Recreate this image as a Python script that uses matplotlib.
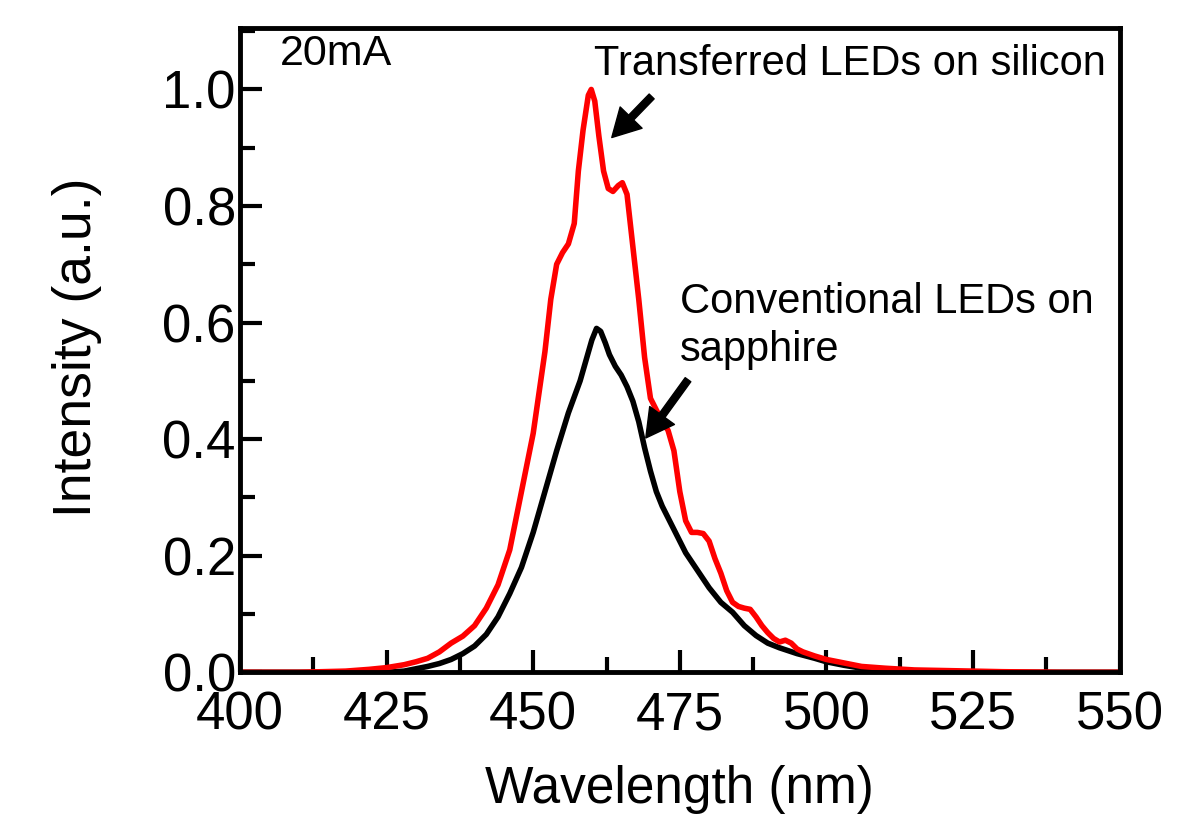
import matplotlib
matplotlib.use("Agg")
import matplotlib.pyplot as plt
from matplotlib.ticker import MultipleLocator

plt.rcParams['font.family'] = ['Liberation Sans', 'DejaVu Sans']

# Transferred LEDs on silicon (red)
wl_si = [400, 410, 418, 422, 425, 428, 430, 432, 434, 436, 438, 440, 442, 444,
         446, 448, 449, 450, 451, 452, 453, 454, 455, 456, 457, 457.7, 458.5,
         459.4, 459.9, 460.5, 461.2, 462, 462.8, 463.6, 464.5, 465.2, 466, 467,
         468, 469, 470, 471, 472, 473, 474, 475, 476, 477, 478, 479, 480, 481,
         482, 483, 484, 485, 486, 487, 488, 489, 490, 491, 492, 493, 494, 495,
         496, 498, 500, 503, 506, 510, 515, 520, 530, 540, 550]
int_si = [0.0, 0.0, 0.002, 0.005, 0.008, 0.013, 0.018, 0.024, 0.035, 0.05,
          0.062, 0.08, 0.11, 0.15, 0.21, 0.31, 0.36, 0.41, 0.48, 0.55, 0.64,
          0.70, 0.72, 0.735, 0.77, 0.86, 0.93, 0.99, 1.0, 0.98, 0.92, 0.86,
          0.83, 0.825, 0.835, 0.84, 0.82, 0.73, 0.64, 0.54, 0.47, 0.45, 0.43,
          0.415, 0.38, 0.31, 0.26, 0.24, 0.24, 0.238, 0.225, 0.195, 0.17, 0.14,
          0.12, 0.113, 0.11, 0.108, 0.095, 0.08, 0.068, 0.058, 0.052, 0.055,
          0.05, 0.04, 0.035, 0.028, 0.022, 0.016, 0.01, 0.007, 0.004, 0.003,
          0.001, 0.0, 0.0]

# Conventional LEDs on sapphire (black)
wl_sa = [400, 420, 425, 428, 430, 432, 434, 436, 438, 440, 442, 444, 446, 448,
         450, 452, 454, 456, 458, 459, 460, 460.8, 461.5, 462.3, 463, 464, 465,
         466, 467, 468, 469, 470, 471, 472, 473, 474, 475, 476, 478, 480, 482,
         484, 486, 488, 490, 492, 495, 498, 500, 503, 506, 510, 515, 520, 550]
int_sa = [0.0, 0.0, 0.0, 0.002, 0.006, 0.01, 0.015, 0.022, 0.032, 0.045, 0.065,
          0.095, 0.135, 0.18, 0.24, 0.31, 0.38, 0.445, 0.50, 0.535, 0.57, 0.59,
          0.585, 0.565, 0.545, 0.525, 0.51, 0.49, 0.465, 0.43, 0.385, 0.345,
          0.31, 0.285, 0.265, 0.245, 0.225, 0.205, 0.175, 0.145, 0.12, 0.103,
          0.08, 0.063, 0.05, 0.042, 0.032, 0.024, 0.018, 0.012, 0.007, 0.003,
          0.001, 0.0, 0.0]

fig = plt.figure(figsize=(12, 8.31), dpi=100)
ax = fig.add_axes([0.2, 0.191, 0.733, 0.775])

ax.plot(wl_sa, int_sa, color='black', lw=4)
ax.plot(wl_si, int_si, color='#ff0000', lw=4)

ax.set_xlim(400, 550)
ax.set_ylim(0, 1.105)
ax.xaxis.set_major_locator(MultipleLocator(25))
ax.xaxis.set_minor_locator(MultipleLocator(12.5))
ax.yaxis.set_major_locator(MultipleLocator(0.2))
ax.yaxis.set_minor_locator(MultipleLocator(0.1))
ax.yaxis.set_major_formatter(plt.FormatStrFormatter('%.1f'))
ax.tick_params(which='both', direction='in', width=3, labelsize=38)
ax.tick_params(axis='y', pad=3)
ax.tick_params(axis='x', pad=13)
ax.tick_params(which='major', length=16)
ax.tick_params(which='minor', length=11)
for s in ax.spines.values():
    s.set_linewidth(3.5)

ax.set_xlabel('Wavelength (nm)', fontsize=37, labelpad=18)
ax.set_ylabel('Intensity (a.u.)', fontsize=38.5)
ax.yaxis.set_label_coords(-0.157, 0.505)

ax.text(406.8, 1.06, '20mA', fontsize=31, va='center')
ax.text(460.3, 1.043, 'Transferred LEDs on silicon', fontsize=30, va='center')
ax.text(475.0, 0.594, 'Conventional LEDs on\nsapphire', fontsize=30,
        va='center', linespacing=1.25)

arrow = dict(facecolor='black', edgecolor='black', width=5, headwidth=22,
             headlength=20, shrink=0)
ax.annotate('', xy=(463.4, 0.9175), xytext=(470.2, 0.988), arrowprops=arrow)
ax.annotate('', xy=(469.2, 0.402), xytext=(476.4, 0.502), arrowprops=arrow)

fig.savefig('out.png', dpi=100)
